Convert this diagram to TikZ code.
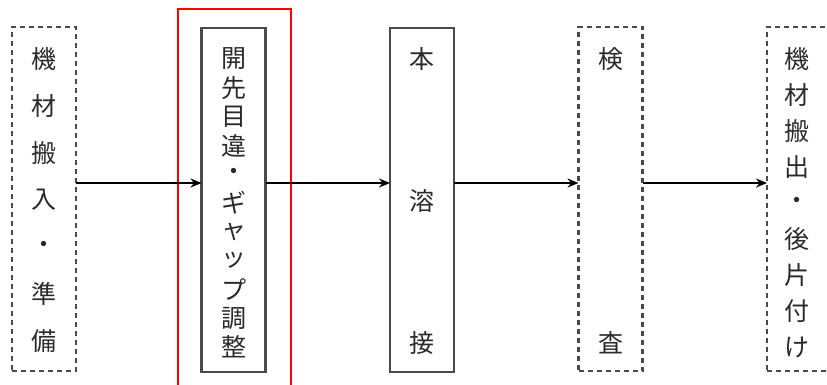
\documentclass[tikz,border=0pt]{standalone}
\usepackage{fontspec}
\newfontfamily\jp{Noto Sans CJK JP}
\usetikzlibrary{arrows.meta}
\definecolor{txt}{HTML}{2A2A2A}
\definecolor{edge}{HTML}{4A4A4A}
\tikzset{
  boxbase/.style={rectangle, inner sep=0pt, outer sep=0pt, minimum width=64pt, minimum height=344pt, line width=2.2pt},
  solidbox/.style={boxbase, draw=edge},
  dashbox/.style={boxbase, draw=edge, dash pattern=on 5pt off 4pt},
  redbox/.style={rectangle, inner sep=0pt, draw=red, line width=2.2pt, minimum width=113pt, minimum height=400pt},
  ch/.style={inner sep=0pt, text=txt, font=\jp\fontsize{25}{25}\selectfont},
  arr/.style={line width=2pt, black, -{Stealth[length=11pt,width=9pt]}},
}
\begin{document}
\begin{tikzpicture}[x=1pt, y=-1pt]
\useasboundingbox (0,0) rectangle (827,384);
\node[redbox] (red) at (234.5,209) {};
\node[dashbox] (b1) at (44,199) {};
\node[solidbox] (b2) at (233.5,200) {};
\node[solidbox] (b3) at (422,200) {};
\node[dashbox] (b4) at (610.5,199) {};
\node[dashbox] (b5) at (799,199) {};
\coordinate (ay) at (0,183);
% texts
\foreach \c [count=\i] in {機,材,搬,入,・,準,備}
  \node[ch] (t1-\i) at (44,{59+(\i-1)*47}) {\c};
\foreach \c [count=\i] in {開,先,目,違,・,ギ,ャ,ッ,プ,調,整}
  \node[ch] (t2-\i) at (233.5,{59+(\i-1)*28.8}) {\c};
\foreach \c [count=\i] in {本,溶,接}
  \node[ch] (t3-\i) at (422,{59+(\i-1)*142}) {\c};
\foreach \c [count=\i] in {検,査}
  \node[ch] (t4-\i) at (610.5,{59+(\i-1)*284}) {\c};
\foreach \c [count=\i] in {機,材,搬,出,・,後,片,付,け}
  \node[ch] (t5-\i) at (797,{59+(\i-1)*36}) {\c};
% arrows
\draw[arr] (b1.east |- ay) -- (b2.west |- ay);
\draw[arr] (b2.east |- ay) -- (b3.west |- ay);
\draw[arr] (b3.east |- ay) -- (b4.west |- ay);
\draw[arr] (b4.east |- ay) -- (b5.west |- ay);
\end{tikzpicture}
\end{document}
